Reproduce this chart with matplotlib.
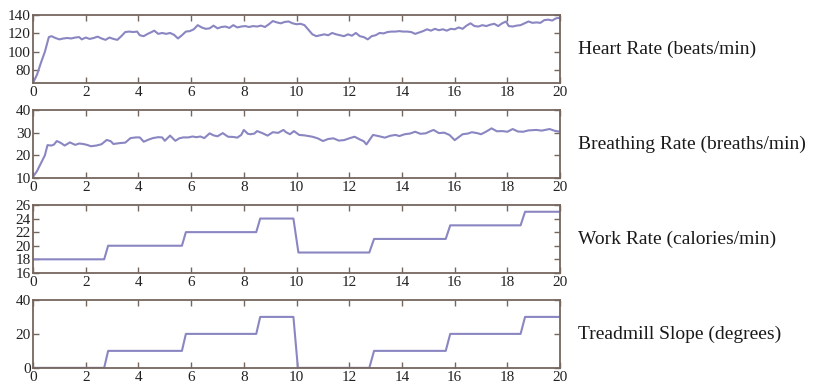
"""
Physiological response during a graded treadmill exercise test
"""

import matplotlib
matplotlib.use("Agg")
import matplotlib.pyplot as plt

# Heart rate (beats/min) vs time (min)
hr_time = [0.0, 0.15, 0.3, 0.45, 0.6, 0.7, 0.85, 1.0, 1.15, 1.3, 1.45, 1.6, 1.75, 1.85,
           2.0, 2.15, 2.3, 2.45, 2.6, 2.75, 2.9, 3.05, 3.2, 3.35, 3.5, 3.65, 3.8, 3.95,
           4.05, 4.2, 4.35, 4.5, 4.6, 4.75, 4.9, 5.05, 5.2, 5.35, 5.5, 5.65, 5.8, 5.95,
           6.1, 6.25, 6.4, 6.55, 6.7, 6.85, 7.0, 7.15, 7.3, 7.45, 7.6, 7.75, 7.9, 8.05,
           8.2, 8.35, 8.5, 8.65, 8.8, 8.95, 9.1, 9.25, 9.4, 9.55, 9.7, 9.85, 10.0, 10.15,
           10.3, 10.45, 10.6, 10.75, 10.9, 11.05, 11.2, 11.35, 11.5, 11.65, 11.8, 11.95,
           12.1, 12.25, 12.4, 12.55, 12.7, 12.85, 13.0, 13.15, 13.3, 13.45, 13.6, 13.75,
           13.9, 14.05, 14.2, 14.35, 14.5, 14.65, 14.8, 14.95, 15.1, 15.25, 15.4, 15.55,
           15.7, 15.85, 16.0, 16.15, 16.3, 16.45, 16.6, 16.75, 16.9, 17.05, 17.2, 17.35,
           17.5, 17.65, 17.8, 17.95, 18.05, 18.2, 18.35, 18.5, 18.65, 18.8, 18.95, 19.1,
           19.25, 19.4, 19.55, 19.7, 19.85, 20.0]
hr_values = [66, 75, 88, 100, 116, 117, 115, 113.5, 114.5, 115, 114.5, 115.5, 116, 113.5,
             115.5, 114, 115, 116.5, 114.5, 113, 115.5, 114, 113, 117, 121.5, 122, 121.5, 122,
             118, 117, 119.5, 121.5, 123, 119.5, 120.5, 119.5, 120.5, 118.5, 114.5, 118, 122, 122.5,
             124.5, 129, 126.5, 125, 125.5, 128.5, 125.5, 127, 127.5, 126, 129, 126.5, 127.5, 128,
             127, 128, 127.5, 128.5, 127, 130, 133.5, 132, 131, 132.5, 133, 131, 130, 130.5,
             129, 124, 119, 117, 118, 119, 118, 120.5, 119, 118, 117, 119,
             117.5, 120.5, 117, 116, 113.5, 117, 118, 120.5, 120, 121.5, 122, 122,
             122.5, 122, 122, 121.5, 119.5, 121, 122.5, 124.5, 123, 125, 123.5, 124.5,
             123, 125, 124.5, 126.5, 125, 128.5, 131, 128, 127.5, 129, 128, 129.5,
             130.5, 128, 131, 133, 128, 127.5, 128.5, 129, 131, 133, 131.5, 132,
             131.5, 134.5, 135, 134, 136.5, 137]

# Breathing rate (breaths/min) vs time (min)
br_time = [0.0, 0.15, 0.3, 0.45, 0.55, 0.7, 0.8, 0.9, 1.05, 1.2, 1.4, 1.6, 1.75, 1.9,
           2.05, 2.2, 2.4, 2.6, 2.8, 2.95, 3.05, 3.3, 3.5, 3.7, 3.9, 4.05, 4.2, 4.4,
           4.55, 4.75, 4.9, 5.0, 5.2, 5.4, 5.55, 5.7, 5.9, 6.05, 6.2, 6.35, 6.5, 6.7,
           6.85, 7.0, 7.2, 7.4, 7.6, 7.75, 7.9, 8.0, 8.15, 8.25, 8.4, 8.5, 8.7, 8.9,
           9.1, 9.3, 9.5, 9.6, 9.75, 9.9, 10.1, 10.3, 10.6, 10.8, 11.0, 11.2, 11.4, 11.6,
           11.8, 12.0, 12.2, 12.4, 12.55, 12.65, 12.9, 13.1, 13.35, 13.55, 13.75, 13.9,
           14.1, 14.3, 14.5, 14.7, 14.9, 15.05, 15.2, 15.4, 15.6, 15.8, 16.0, 16.15,
           16.3, 16.5, 16.65, 16.85, 17.0, 17.2, 17.4, 17.6, 17.8, 18.0, 18.2, 18.4,
           18.6, 18.8, 19.1, 19.3, 19.6, 19.8, 20.0]
br_values = [10.5, 13, 16.5, 20, 24.5, 24.3, 24.8, 26.3, 25.5, 24.3, 25.7, 24.6, 25.2, 25,
             24.6, 24, 24.3, 24.9, 26.8, 26.2, 25, 25.4, 25.6, 27.6, 27.9, 27.9, 26, 27,
             27.6, 28, 27.9, 26.4, 28.7, 26.4, 27.5, 27.9, 27.9, 28.3, 28, 28.3, 27.6, 29.7,
             28.8, 28.4, 29.8, 28.2, 28.1, 27.8, 29, 31.2, 29.5, 29.3, 29.6, 30.7, 29.8, 28.7,
             30.2, 29.9, 31.2, 30.2, 29.3, 30.7, 29, 28.8, 28.2, 27.5, 26.3, 27.2, 27.5, 26.5,
             26.7, 27.5, 28.2, 27, 26.2, 24.8, 29, 28.5, 27.8, 28.6, 29, 28.5,
             29.3, 29.6, 30.4, 29.5, 29.7, 30.5, 31.2, 29.8, 30, 29, 26.7, 28,
             29.3, 29.6, 30.2, 29.8, 29.3, 30.5, 31.9, 30.6, 30.7, 30.4, 31.6, 30.5,
             30.4, 31, 31.2, 30.9, 31.6, 30.8, 30.4]

# Work rate (calories/min): stepped protocol
wr_time = [0, 2.7, 2.85, 5.65, 5.8, 8.47, 8.62, 9.88, 10.07, 12.76, 12.94, 15.66, 15.83, 18.5, 18.67, 20]
wr_values = [18, 18, 20, 20, 22, 22, 24, 24, 19, 19, 21, 21, 23, 23, 25, 25]

# Treadmill slope (degrees)
sl_time = [0, 2.7, 2.85, 5.65, 5.8, 8.47, 8.62, 9.88, 10.05, 12.76, 12.94, 15.66, 15.83, 18.5, 18.67, 20]
sl_values = [0, 0, 10, 10, 20, 20, 30, 30, 0, 0, 10, 10, 20, 20, 30, 30]

x_ticks = list(range(0, 21, 2))

panels = [
    (hr_time, hr_values, (66, 140), [80, 100, 120, 140], 'Heart Rate (beats/min)'),
    (br_time, br_values, (10, 40), [10, 20, 30, 40], 'Breathing Rate (breaths/min)'),
    (wr_time, wr_values, (16, 26), [16, 18, 20, 22, 24, 26], 'Work Rate (calories/min)'),
    (sl_time, sl_values, (0, 40), [0, 20, 40], 'Treadmill Slope (degrees)'),
]


def main():
    plt.rcParams['font.family'] = ['Liberation Serif', 'DejaVu Serif']
    fig = plt.figure(figsize=(8.36, 3.86), dpi=100)

    line_color = '#8a86c2'
    spine_color = '#75675e'
    # axes rectangles in figure coords (left, bottom, width, height)
    bottoms = [0.785, 0.539, 0.293, 0.047]

    for (t, v, ylim, yticks, label), bottom in zip(panels, bottoms):
        ax = fig.add_axes([0.0395, bottom, 0.6305, 0.176])
        ax.plot(t, v, color=line_color, linewidth=1.5)
        ax.set_xlim(0, 20)
        ax.set_ylim(*ylim)
        ax.set_xticks(x_ticks)
        ax.set_yticks(yticks)
        ax.tick_params(direction='in', top=True, right=True, length=4, width=1,
                       color=spine_color, labelsize=11, labelcolor='#222222')
        ax.tick_params(axis='x', pad=2.5)
        ax.tick_params(axis='y', pad=1.5)
        for s in ax.spines.values():
            s.set_color(spine_color)
            s.set_linewidth(1.3)
        fig.text(0.691, bottom + 0.088, label, fontsize=14, va='center', ha='left',
                 color='#1a1a1a')

    fig.savefig('out.png', dpi=100)


if __name__ == "__main__":
    main()
